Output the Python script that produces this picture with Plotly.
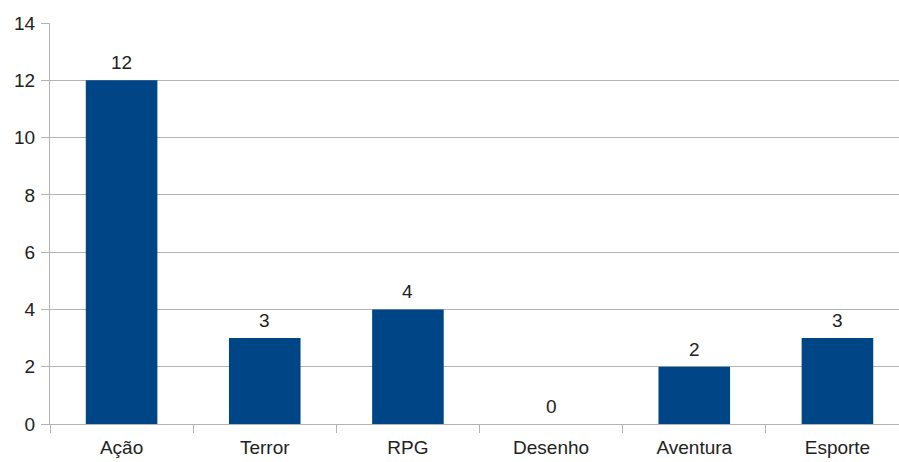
import plotly.graph_objects as go

# ----------------------------
# Data
# ----------------------------
categories = ["Ação", "Terror", "RPG", "Desenho", "Aventura", "Esporte"]
values = [12, 3, 4, 0, 2, 3]

BAR_COLOR = "#004586"
GRID_COLOR = "#b3b3b3"
TEXT_COLOR = "#222222"
FONT = "Liberation Sans, Arial, sans-serif"

fig = go.Figure(
    go.Bar(
        x=categories,
        y=values,
        marker=dict(color=BAR_COLOR, line=dict(width=0)),
        width=0.5,
        cliponaxis=False,
    )
)

# value labels above the bars
for cat, val in zip(categories, values):
    fig.add_annotation(
        x=cat, y=val, text=str(val),
        showarrow=False, yanchor="bottom", yshift=5,
        font=dict(family=FONT, size=19, color=TEXT_COLOR),
    )

fig.update_layout(
    width=899,
    height=462,
    margin=dict(l=50, r=0, t=23, b=38),
    plot_bgcolor="white",
    paper_bgcolor="white",
    showlegend=False,
    font=dict(family=FONT, size=19, color=TEXT_COLOR),
    bargap=0.5,
)

fig.update_xaxes(
    type="category",
    range=[-0.5, 5.43],
    showline=True,
    linecolor=GRID_COLOR,
    linewidth=1,
    ticks="outside",
    tickson="boundaries",
    ticklen=8,
    tickcolor=GRID_COLOR,
    showgrid=False,
    tickfont=dict(size=19),
    ticklabelstandoff=6,
)

fig.update_yaxes(
    range=[0, 14],
    dtick=2,
    showline=True,
    linecolor=GRID_COLOR,
    linewidth=1,
    showgrid=True,
    gridcolor=GRID_COLOR,
    gridwidth=1,
    ticks="outside",
    ticklen=8,
    tickcolor=GRID_COLOR,
    zeroline=False,
    tickfont=dict(size=19),
    ticklabelstandoff=2,
)

# drop the default page margin so the figure fills the window
fig.write_html(
    "out.html",
    config={"displayModeBar": False},
    post_script="document.body.style.margin='0';",
)
